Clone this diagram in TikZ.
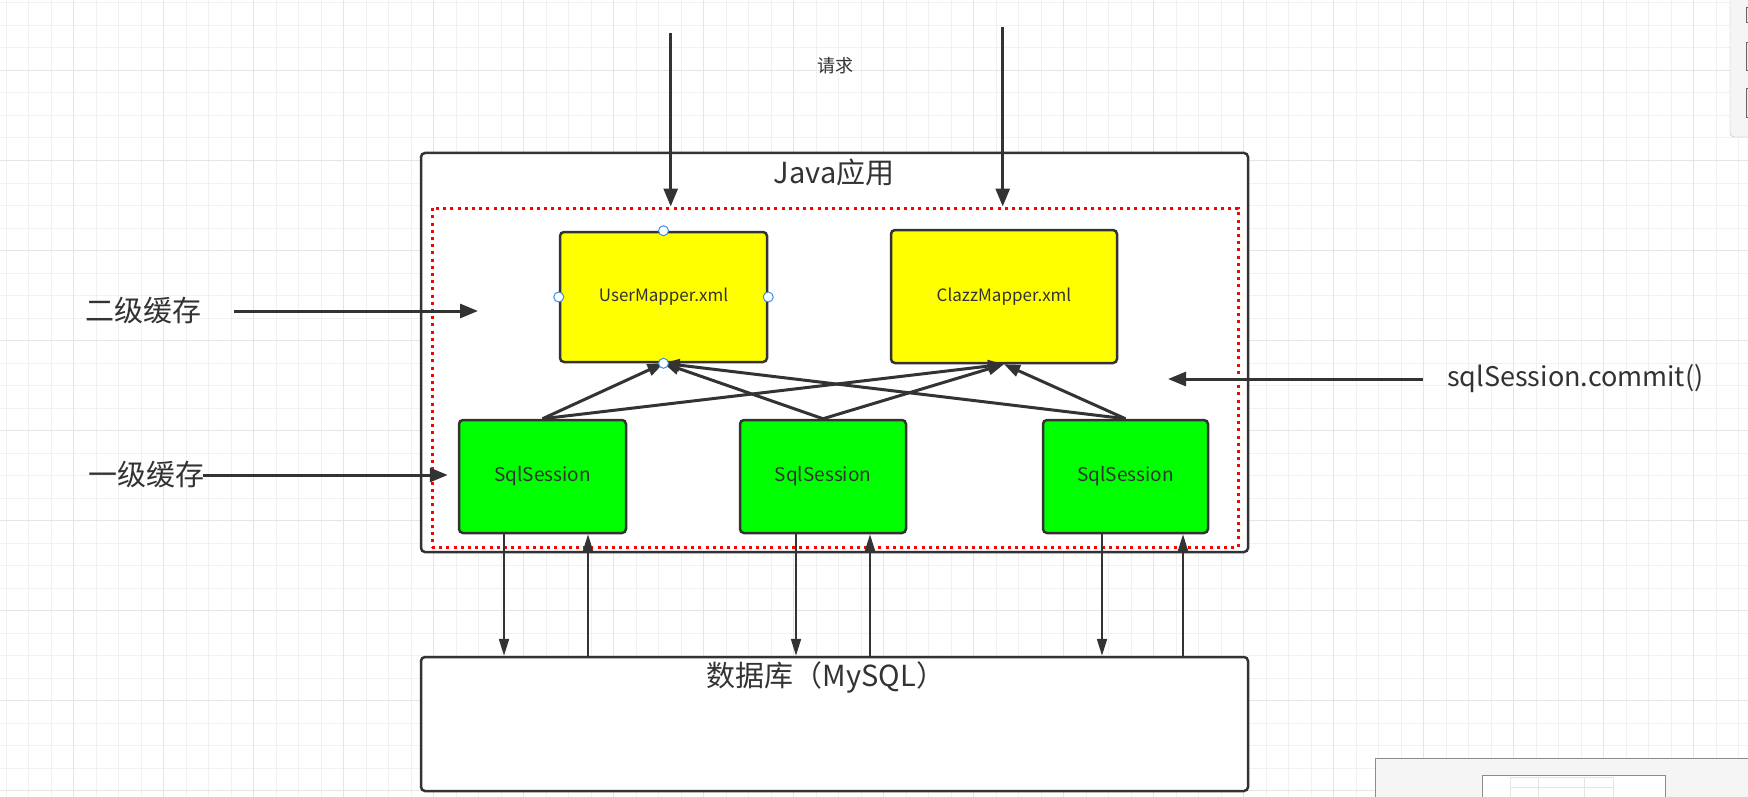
\documentclass[tikz,border=0pt]{standalone}
\usepackage{fontspec}
\setmainfont{Noto Sans CJK SC}
\usetikzlibrary{arrows.meta}

\definecolor{inkgray}{HTML}{333333}
\definecolor{gridlight}{HTML}{F1F1F1}
\definecolor{gridmajor}{HTML}{E5E5E5}
\definecolor{mapyellow}{HTML}{FFFF00}
\definecolor{sessgreen}{HTML}{00FF00}
\definecolor{handleblue}{HTML}{3D8FE0}

\tikzset{
  box/.style={draw=inkgray, line width=2.5pt, rounded corners=4pt, inner sep=0pt, text=inkgray},
  mapbox/.style={box, fill=mapyellow, font=\fontsize{17}{20}\selectfont},
  sessbox/.style={box, fill=sessgreen, minimum height=113pt, font=\fontsize{19}{22}\selectfont},
  bigtxt/.style={text=inkgray, inner sep=0pt, font=\fontsize{29}{32}\selectfont},
  arr/.style={draw=inkgray, line width=3pt, -{Triangle[length=18pt,width=14pt]}},
  uparr/.style={draw=inkgray, line width=3pt, -{Triangle[length=16pt,width=12pt]}},
  dbarr/.style={draw=inkgray, line width=2pt, -{Triangle[length=17pt,width=10pt]}},
  handle/.style={circle, draw=handleblue, fill=white, line width=1pt, minimum size=10pt, inner sep=0pt},
}

\begin{document}
\begin{tikzpicture}[x=1pt,y=-1pt]
\useasboundingbox (0,0) rectangle (1748,797);
\fill[white] (0,0) rectangle (1748,797);

% background grid
\foreach \i in {0,...,77}
  \draw[gridlight, line width=1pt] ({6+22.5*\i},0) -- ({6+22.5*\i},797);
\foreach \i in {0,...,35}
  \draw[gridlight, line width=1pt] (0,{3+22.5*\i}) -- (1748,{3+22.5*\i});
\foreach \i in {0,...,18}
  \draw[gridmajor, line width=1pt] ({73.5+90*\i},0) -- ({73.5+90*\i},797);
\foreach \i in {0,...,8}
  \draw[gridmajor, line width=1pt] (0,{70.5+90*\i}) -- (1748,{70.5+90*\i});

% Java application
\node[box, fill=white, minimum width=827pt, minimum height=399pt] (java) at (834.5,352.5) {};
\node[bigtxt] (javalbl) at (834,172) {Java应用};

% second level cache area
\node[draw=red, line width=3pt, dash pattern=on 3pt off 4.2pt, inner sep=0pt,
      minimum width=806pt, minimum height=339pt] (cache) at (835,377.5) {};

% mapper files
\node[mapbox, minimum width=207pt, minimum height=130pt] (um) at (663.5,297) {UserMapper.xml};
\node[mapbox, minimum width=226pt, minimum height=133pt] (cm) at (1004,296.5) {ClazzMapper.xml};

% sessions
\node[sessbox, minimum width=167pt] (s1) at (542.5,476.5) {SqlSession};
\node[sessbox, minimum width=166pt] (s2) at (823,476.5) {SqlSession};
\node[sessbox, minimum width=165pt] (s3) at (1125.5,476.5) {SqlSession};

% database
\node[box, fill=white, minimum width=827pt, minimum height=134pt] (db) at (834.5,724) {};
\node[bigtxt] (dblbl) at (826,677) {数据库（MySQL）};

% requests
\coordinate (req1) at (670.7,33);
\coordinate (req2) at (1002.7,27);
\draw[arr] (req1) -- (req1 |- cache.north);
\draw[arr] (req2) -- (req2 |- cache.north);
\node[text=inkgray, inner sep=0pt, font=\fontsize{18}{20}\selectfont] (reqlbl) at (835,66) {请求};

% cache labels
\node[bigtxt] (l2lbl) at (143,311) {二级缓存};
\coordinate (l2tip) at (478,311);
\draw[arr] ([xshift=33pt]l2lbl.east) -- (l2tip);

\node[bigtxt] (l1lbl) at (146.5,475) {一级缓存};
\draw[arr, shorten >=10pt] ([xshift=-2pt]l1lbl.east) -- (l1lbl.east -| s1.west);

% commit
\node[bigtxt, anchor=west, font=\fontsize{27}{30}\selectfont] (commit) at (1447,379) {sqlSession.commit()};
\coordinate (committip) at (1168,379);
\draw[arr] ([xshift=-24pt]commit.west) -- (committip);

% sessions to mappers
\foreach \s in {s1,s2,s3}{
  \draw[uparr] (\s.north) -- (um.south);
  \draw[uparr] (\s.north) -- (cm.south);
}

% sessions <-> database
\foreach \s/\dn/\up in {s1/-38.5/45.5, s2/-27/47, s3/-23.5/57.5}{
  \coordinate (dn) at ([xshift=\dn pt]\s.south);
  \coordinate (up) at ([xshift=\up pt]\s.south);
  \draw[dbarr] (dn) -- (dn |- db.north);
  \draw[dbarr] (up |- db.north) -- (up);
}

% selection handles
\foreach \a in {north,south,west,east}
  \node[handle] (uh-\a) at (um.\a) {};

% editor panels
\draw[gray!55, fill=gray!8, rounded corners=4pt] (1730,-6) rectangle (1760,137);
\foreach \ya/\yb in {7/22, 42/70, 88/117}
  \draw[gray!80!black, fill=gray!15] (1746,\ya) rectangle (1756,\yb);
\draw[gray!90, fill=gray!8] (1375,758) rectangle (1760,805);
\draw[gray!90, fill=white] (1482,775) rectangle (1665,805);
\draw[gray!20] (1510,777) rectangle (1613,797);
\draw[gray!20] (1510,787) -- (1613,787);
\draw[gray!20] (1538,777) -- (1538,797);
\draw[gray!20] (1584,777) -- (1584,797);
\end{tikzpicture}
\end{document}
